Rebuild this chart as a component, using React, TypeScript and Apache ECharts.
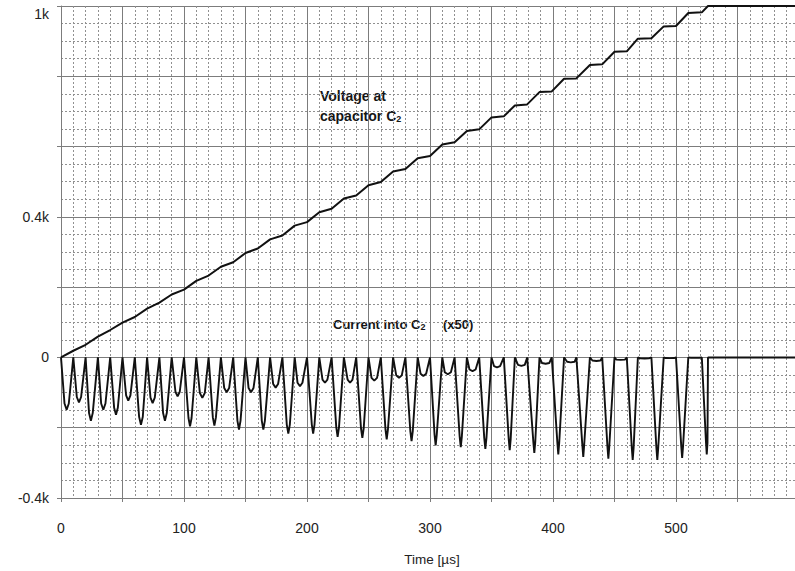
import React, { useEffect, useRef } from "react";
import * as echarts from "echarts";

// Times [µs] where the current trace returns to zero (peaks of the pulse train)
const zeroTimes = [
  0, 10, 20, 30, 40, 50, 60, 70, 80, 90, 100, 110, 120, 130, 140, 150, 160, 170, 180, 190,
  200, 210, 220, 230, 240, 250, 260, 270, 280, 290, 300, 310, 320, 330, 340, 350, 360,
  369, 379, 389, 399, 409, 419, 430, 440, 450, 460, 469, 480, 490, 500, 510, 521, 526,
];
// Bottom of each current dip: time [µs], value (current x50, axis units), rounded-bottom width [µs]
const dipTimes = [
  4.6, 14.6, 24.3, 34.4, 44.7, 54.7, 65, 74.5, 84.5, 94.8, 104.9, 114.9, 124.7, 134.7, 144.7,
  154.5, 164.5, 174.5, 184.8, 194.3, 205, 214.6, 224.9, 235, 245, 254.7, 264.8, 274.8, 285,
  294.6, 304.6, 314.5, 325, 334.6, 345, 354.5, 364.8, 374.3, 384.8, 394, 404.3, 414.5, 424.6,
  435.3, 445, 455, 464.8, 474.5, 484.8, 495, 505, 515.5, 525,
];
const dipValues = [
  -149, -128, -180, -149, -163, -123, -192, -130, -180, -111, -196, -115, -194, -99, -205,
  -99, -205, -86, -217, -82, -217, -72, -226, -72, -229, -66, -233, -58, -238, -53, -250,
  -48, -255, -39, -260, -28, -264, -24, -272, -18, -276, -14, -283, -10, -288, -7, -292,
  -3, -292, -2, -286, -1, -276,
];
const dipBottomWidth = [
  3.5, 3.5, 3, 3.5, 3, 3.5, 3, 3.5, 3, 3.5,
  2.5, 4, 2.5, 4, 2.5, 4, 2.5, 4, 2.5, 4,
  2.2, 4, 2.2, 4, 2.2, 4.5, 2, 4.5, 2, 4.5,
  1.8, 5, 1.8, 5, 1.8, 5, 1.6, 5.5, 1.6, 6,
  1.5, 6, 1.5, 6.5, 1.5, 7, 1.5, 7, 1.5, 7,
  1.5, 7, 1.2,
];
const currentEnd = [600, 0];

// Voltage at capacitor C2, read at the same instants
const voltTimes = [...zeroTimes, 600];
const voltValues = [
  0, 19, 36, 59, 78, 99, 115, 139, 156, 179, 193, 218, 233, 258, 271, 297, 310, 336, 347, 375,
  385, 413, 423, 452, 461, 490, 499, 529, 536, 567, 573, 606, 612, 644, 649, 683, 686, 717,
  720, 755, 757, 793, 794, 832, 834, 870, 871, 907, 908, 942, 943, 980, 982, 1000, 1000,
];

const xLabels: Record<number, string> = { 0: "0", 100: "100", 200: "200", 300: "300", 400: "400", 500: "500" };
const yLabels: Record<number, string> = { [-400]: "-0.4k", 0: "0", 400: "0.4k", 1000: "{t|1k}" };

export default function App() {
  const ref = useRef<HTMLDivElement>(null);
  useEffect(() => {
    if (!ref.current) return;
    const chart = echarts.init(ref.current, null, { renderer: "svg" });
    const currentData: number[][] = [];
    zeroTimes.forEach((t, i) => {
      currentData.push([t, 0]);
      if (i < dipTimes.length) {
        const half = dipBottomWidth[i] / 2;
        const shoulder = dipValues[i] * 0.88;
        currentData.push([dipTimes[i] - half, shoulder]);
        currentData.push([dipTimes[i], dipValues[i]]);
        currentData.push([dipTimes[i] + half, shoulder]);
      }
    });
    currentData.push(currentEnd);
    const voltData = voltTimes.map((t, i) => [t, voltValues[i]]);

    const major = "#7c7c7c";
    const minor = "#909090";
    const font = "Liberation Sans, Arial, sans-serif";
    chart.setOption({
      animation: false,
      backgroundColor: "#ffffff",
      grid: { left: 61, right: -4, top: 6, bottom: 73, outerBoundsMode: "none", containLabel: false },
      xAxis: {
        type: "value",
        min: 0,
        max: 600,
        interval: 50,
        axisLine: { show: true, onZero: false, lineStyle: { color: major, width: 1 } },
        axisTick: { show: true, length: 4, lineStyle: { color: major } },
        minorTick: { show: false, splitNumber: 5 },
        splitLine: { show: true, lineStyle: { color: major, width: 1 } },
        minorSplitLine: { show: true, lineStyle: { color: minor, width: 1, type: [2, 2] } },
        axisLabel: {
          interval: 0,
          margin: 23,
          fontSize: 14,
          color: "#222",
          fontFamily: font,
          formatter: (v: number) => xLabels[v] ?? "",
        },
      },
      yAxis: {
        type: "value",
        min: -400,
        max: 1000,
        interval: 200,
        axisLine: { show: true, onZero: false, lineStyle: { color: major, width: 1 } },
        axisTick: { show: true, length: 4, lineStyle: { color: major } },
        minorTick: { show: false, splitNumber: 4 },
        splitLine: { show: true, lineStyle: { color: major, width: 1 } },
        minorSplitLine: { show: true, lineStyle: { color: minor, width: 1, type: [2, 2] } },
        axisLabel: {
          interval: 0,
          margin: 12,
          fontSize: 14,
          color: "#222",
          fontFamily: font,
          formatter: (v: number) => yLabels[v] ?? "",
          rich: { t: { fontSize: 14, fontFamily: font, color: "#222", padding: [16, 0, 0, 0] } },
        },
      },
      series: [
        {
          name: "Voltage at capacitor C2",
          type: "line",
          data: voltData,
          showSymbol: false,
          lineStyle: { color: "#111", width: 2 },
          z: 3,
        },
        {
          name: "Current into C2 (x50)",
          type: "line",
          data: currentData,
          showSymbol: false,
          lineStyle: { color: "#111", width: 1.9 },
          z: 3,
        },
      ],
      graphic: [
        {
          type: "text",
          x: 320,
          y: 96,
          style: {
            text: "Voltage at",
            fontSize: 14,
            fontWeight: "bold",
            fontFamily: font,
            fill: "#151515",
            verticalAlign: "middle",
            align: "left",
          },
        },
        {
          type: "text",
          x: 320,
          y: 115.5,
          style: {
            text: "{b|capacitor C}{s|2}",
            fontSize: 14,
            fontWeight: "bold",
            fontFamily: font,
            fill: "#151515",
            verticalAlign: "middle",
            align: "left",
            rich: {
              b: { fontSize: 14, fontWeight: "bold", fontFamily: font, fill: "#151515", lineHeight: 16 },
              s: { fontSize: 9, fontWeight: "bold", fontFamily: font, fill: "#151515", verticalAlign: "bottom", lineHeight: 9 },
            },
          },
        },
        {
          type: "text",
          x: 333,
          y: 324,
          style: {
            text: "{b|Current into C}{s|2}",
            fontSize: 13,
            fontWeight: "bold",
            fontFamily: font,
            fill: "#151515",
            verticalAlign: "middle",
            align: "left",
            rich: {
              b: { fontSize: 13, fontWeight: "bold", fontFamily: font, fill: "#151515", lineHeight: 15 },
              s: { fontSize: 9, fontWeight: "bold", fontFamily: font, fill: "#151515", verticalAlign: "bottom", lineHeight: 9 },
            },
          },
        },
        {
          type: "text",
          x: 443,
          y: 324,
          style: {
            text: "(x50)",
            fontSize: 13,
            fontWeight: "bold",
            fontFamily: font,
            fill: "#151515",
            verticalAlign: "middle",
            align: "left",
          },
        },
        {
          type: "text",
          x: 432,
          y: 559,
          style: {
            text: "Time [µs]",
            fontSize: 13.5,
            fontFamily: font,
            fill: "#222",
            verticalAlign: "middle",
            align: "center",
          },
        },
      ],
    });
    return () => chart.dispose();
  }, []);
  return (
    <div
      ref={ref}
      style={{ position: "fixed", left: 0, top: 0, width: 795, height: 571, background: "#fff" }}
    />
  );
}
